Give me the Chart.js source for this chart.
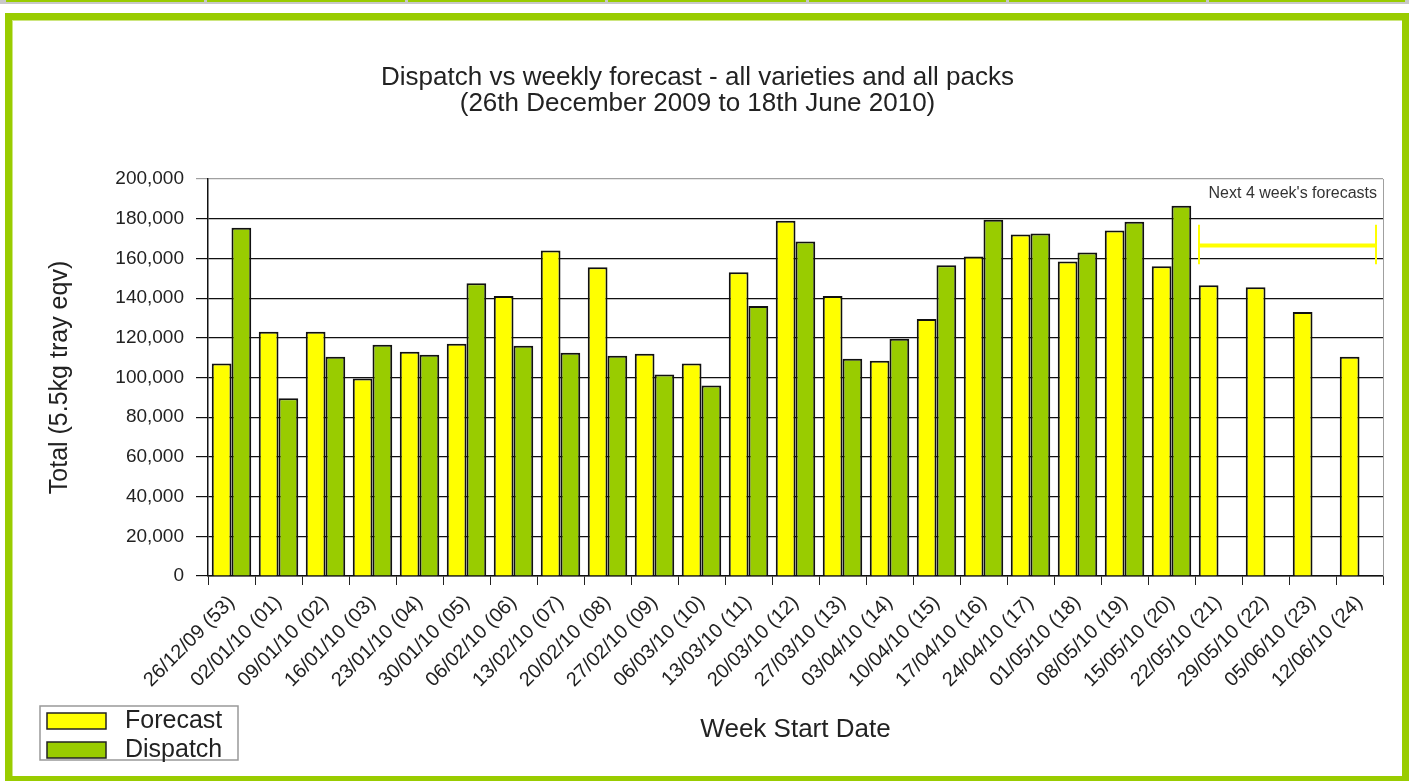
<!DOCTYPE html>
<html>
<head>
<meta charset="utf-8">
<script src="https://cdn.jsdelivr.net/npm/chart.js@4.4.1/dist/chart.umd.min.js"></script>
<style>
  html, body { margin: 0; padding: 0; background: #fff; }
  body { width: 1409px; height: 781px; position: relative; overflow: hidden; }
  .tabs { position: absolute; left: 0; top: 0; width: 1409px; height: 4px; background: #c8c8c8; }
  .tabs div { position: absolute; top: 0; height: 2px; background: #99cc00; }
  .frame { position: absolute; left: 5px; top: 13px; width: 1390px; height: 756px;
           border: 7px solid #99cc00; }
  .frame::after { content: ''; position: absolute; left: 0; top: 0; right: 0; bottom: 0;
           border: 1px solid #cde67f; border-right: none; border-bottom: none; pointer-events: none; }
  #chart { position: absolute; left: 12px; top: 20px; }
</style>
</head>
<body>
<div class="tabs">
  <div style="left:6px;width:198px"></div>
  <div style="left:207px;width:198px"></div>
  <div style="left:408px;width:197px"></div>
  <div style="left:608px;width:198px"></div>
  <div style="left:809px;width:197px"></div>
  <div style="left:1009px;width:197px"></div>
  <div style="left:1209px;width:196px"></div>
</div>
<div class="frame"></div>
<canvas id="chart" width="1390" height="756"></canvas>
<script>
// Week start dates (week number)
const weekLabels = [
    '26/12/09 (53)', '02/01/10 (01)', '09/01/10 (02)', '16/01/10 (03)', '23/01/10 (04)',
    '30/01/10 (05)', '06/02/10 (06)', '13/02/10 (07)', '20/02/10 (08)', '27/02/10 (09)',
    '06/03/10 (10)', '13/03/10 (11)', '20/03/10 (12)', '27/03/10 (13)', '03/04/10 (14)',
    '10/04/10 (15)', '17/04/10 (16)', '24/04/10 (17)', '01/05/10 (18)', '08/05/10 (19)',
    '15/05/10 (20)', '22/05/10 (21)', '29/05/10 (22)', '05/06/10 (23)', '12/06/10 (24)'
];

const forecastValues = [
    107000, 123000, 123000, 99500, 113000,
    117000, 141000, 164000, 155500, 112000,
    107000, 153000, 179000, 141000, 108500,
    129500, 161000, 172000, 158500, 174000,
    156000, 146500, 145500, 133000, 110500
];

const dispatchValues = [
    175500, 89500, 110500, 116500, 111500,
    147500, 116000, 112500, 111000, 101500,
    96000, 136000, 168500, 109500, 119500,
    156500, 179500, 172500, 163000, 178500,
    186500, null, null, null, null
];

const titleLines = ['Dispatch vs weekly forecast - all varieties and all packs', '(26th December 2009 to 18th June 2010)'];
const forecastNote = "Next 4 week's forecasts";
const firstFutureWeek = 21;

const FONT = '"Liberation Sans", Arial, sans-serif';
Chart.defaults.font.family = FONT;
Chart.defaults.color = '#222';

/**
 * Extra drawing: plot frame, forecast bracket and the boxed legend
 */
const extrasPlugin = {
    id: 'extras',
    afterDraw(chart) {
        const ctx = chart.ctx;
        const area = chart.chartArea;
        const x = chart.scales.x;
        const y = chart.scales.y;

        // grey right edge of the plot
        ctx.save();
        ctx.strokeStyle = '#a0a0a0';
        ctx.lineWidth = 1;
        ctx.beginPath();
        ctx.moveTo(area.right + 0.5, area.top);
        ctx.lineTo(area.right + 0.5, area.bottom);
        ctx.stroke();

        // note text
        ctx.fillStyle = '#333';
        ctx.font = '16px ' + FONT;
        ctx.textAlign = 'right';
        ctx.textBaseline = 'middle';
        ctx.fillText(forecastNote, area.right - 6, area.top + 15);

        // yellow bracket over the future weeks
        const left = (x.getPixelForValue(firstFutureWeek - 1) + x.getPixelForValue(firstFutureWeek)) / 2 + 4;
        const right = area.right - 7;
        const mid = y.getPixelForValue(166500);
        const top = y.getPixelForValue(177000);
        const bottom = y.getPixelForValue(157000);
        ctx.strokeStyle = '#ffff00';
        ctx.lineWidth = 4;
        ctx.beginPath();
        ctx.moveTo(left, mid);
        ctx.lineTo(right, mid);
        ctx.stroke();
        ctx.lineWidth = 2;
        ctx.beginPath();
        ctx.moveTo(left, top);
        ctx.lineTo(left, bottom);
        ctx.moveTo(right, top);
        ctx.lineTo(right, bottom);
        ctx.stroke();

        // legend box
        const lx = 28, ly = chart.height - 70;
        ctx.strokeStyle = '#999';
        ctx.lineWidth = 1.5;
        ctx.strokeRect(lx, ly, 198, 54);
        ctx.textAlign = 'left';
        ctx.font = '25px ' + FONT;
        chart.data.datasets.forEach(function(ds, i) {
            const sy = ly + 7 + i * 29;
            ctx.fillStyle = ds.backgroundColor;
            ctx.fillRect(lx + 7, sy, 59, 16);
            ctx.strokeStyle = '#222';
            ctx.lineWidth = 1.5;
            ctx.strokeRect(lx + 7, sy, 59, 16);
            ctx.fillStyle = '#222';
            ctx.fillText(ds.label, lx + 85, sy + 8);
        });
        ctx.restore();
    }
};

new Chart(document.getElementById('chart').getContext('2d'), {
    type: 'bar',
    data: {
        labels: weekLabels,
        datasets: [{
            label: 'Forecast',
            data: forecastValues,
            backgroundColor: '#ffff00',
            borderColor: '#111',
            borderWidth: 2
        }, {
            label: 'Dispatch',
            data: dispatchValues,
            backgroundColor: '#99cc00',
            borderColor: '#111',
            borderWidth: 2
        }]
    },
    options: {
        responsive: false,
        animation: false,
        devicePixelRatio: 1,
        layout: { padding: { left: 0, right: 19, top: 0, bottom: 0 } },
        datasets: {
            bar: { categoryPercentage: 0.84, barPercentage: 1.0 }
        },
        plugins: {
            legend: { display: false },
            tooltip: { enabled: false },
            title: {
                display: true,
                text: titleLines,
                color: '#222',
                font: { size: 26, weight: 'normal', lineHeight: 1.0 },
                padding: { top: 45, bottom: 62 }
            }
        },
        scales: {
            x: {
                grid: {
                    offset: true,
                    drawOnChartArea: false,
                    color: '#222',
                    tickLength: 9
                },
                border: { color: '#111', width: 1.5 },
                ticks: {
                    autoSkip: false,
                    minRotation: 45,
                    maxRotation: 45,
                    padding: 6,
                    color: '#222',
                    font: { size: 20 }
                },
                title: {
                    display: true,
                    text: 'Week Start Date',
                    color: '#222',
                    font: { size: 26 },
                    padding: { top: 0, bottom: 31 }
                },
                afterFit: function(scale) { scale.height = 200; }
            },
            y: {
                min: 0,
                max: 200000,
                grid: {
                    color: function(c) { return c.tick && c.tick.value === 200000 ? '#a0a0a0' : '#111'; },
                    lineWidth: 1.2,
                    tickLength: 12
                },
                border: { color: '#111', width: 1.5 },
                ticks: {
                    stepSize: 20000,
                    padding: 12,
                    color: '#222',
                    font: { size: 19 },
                    callback: function(v) { return v.toLocaleString('en-US'); }
                },
                title: {
                    display: true,
                    text: 'Total (5.5kg tray eqv)',
                    color: '#222',
                    font: { size: 25 },
                    padding: { top: 33, bottom: 0 }
                },
                afterFit: function(scale) { scale.width = 196; }
            }
        }
    },
    plugins: [extrasPlugin]
});
</script>
</body>
</html>
